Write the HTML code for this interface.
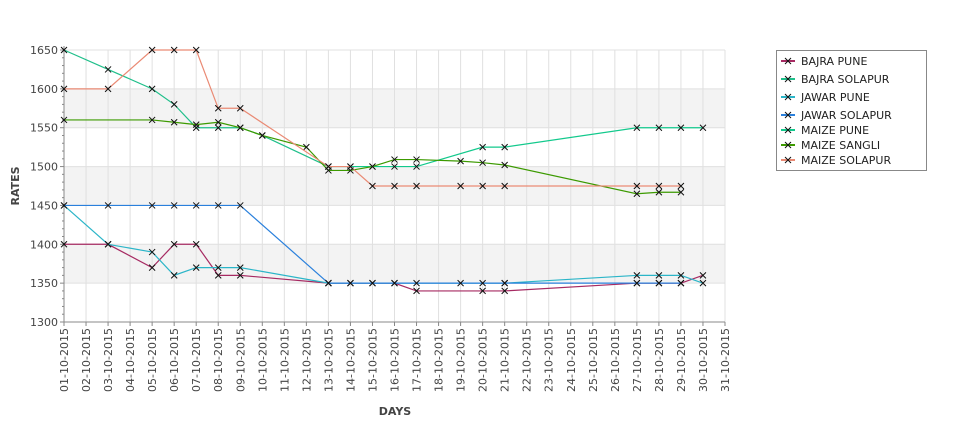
<!DOCTYPE html>
<html><head><meta charset="utf-8"><style>
body{margin:0;background:#fff;font-family:"Liberation Sans","DejaVu Sans",sans-serif}
svg text{font-family:"DejaVu Sans","Liberation Sans",sans-serif}
</style></head><body>
<svg id="chart" width="975" height="429" xmlns="http://www.w3.org/2000/svg"></svg>
<script>
const seriesNames=["BAJRA PUNE","BAJRA SOLAPUR","JAWAR PUNE","JAWAR SOLAPUR","MAIZE PUNE","MAIZE SANGLI","MAIZE SOLAPUR"];
const seriesColors=["#a62a62","#1fbf8a","#2bb5c8","#2a80dc","#12c98c","#3c9a00","#ea8a74"];
const bajraPuneDays=[1,3,5,6,7,8,9,13,14,15,16,17,20,21,27,28,29,30];
const bajraPuneVals=[1400,1400,1370,1400,1400,1360,1360,1350,1350,1350,1350,1340,1340,1340,1350,1350,1350,1360];
const bajraSolDays=[1,3,5,6,7,8,9,10,13];
const bajraSolVals=[1650,1625,1600,1580,1550,1550,1550,1540,1500];
const jawarPuneDays=[1,3,5,6,7,8,9,13,21,27,28,29,30];
const jawarPuneVals=[1450,1400,1390,1360,1370,1370,1370,1350,1350,1360,1360,1360,1350];
const jawarSolDays=[1,3,5,6,7,8,9,13,14,15,16,17,19,20,21,27,28,29];
const jawarSolVals=[1450,1450,1450,1450,1450,1450,1450,1350,1350,1350,1350,1350,1350,1350,1350,1350,1350,1350];
const maizePuneDays=[13,14,15,16,17,20,21,27,28,29,30];
const maizePuneVals=[1500,1500,1500,1500,1500,1525,1525,1550,1550,1550,1550];
const maizeSangliDays=[1,5,6,7,8,9,10,12,13,14,15,16,17,19,20,21,27,28,29];
const maizeSangliVals=[1560,1560,1557,1554,1557,1550,1540,1525,1495,1495,1500,1509,1509,1507,1505,1502,1465,1467,1467];
const maizeSolDays=[1,3,5,6,7,8,9,13,14,15,16,17,19,20,21,27,28,29];
const maizeSolVals=[1600,1600,1650,1650,1650,1575,1575,1500,1500,1475,1475,1475,1475,1475,1475,1475,1475,1475];
const yTicks=[1300,1350,1400,1450,1500,1550,1600,1650];
const dayCount=31;

const NS="http://www.w3.org/2000/svg";
const svg=document.getElementById('chart');
const L=64,R=725,T=50,B=322,ymin=1300,ymax=1650;
const xs=d=>L+(d-1)*(R-L)/(dayCount-1);
const ys=v=>B-(v-ymin)*(B-T)/(ymax-ymin);
function mk(tag,attrs,parent){const e=document.createElementNS(NS,tag);for(const k in attrs)e.setAttribute(k,attrs[k]);(parent||svg).appendChild(e);return e;}
const grid=mk('g',{});


for(let i=0;i<yTicks.length-1;i++){if(i%2===1){const r=mk('rect',{x:L,y:ys(yTicks[i+1]),width:R-L,height:ys(yTicks[i])-ys(yTicks[i+1]),fill:'#f3f3f3'},grid);}}
for(let d=1;d<=dayCount;d++){mk('line',{x1:xs(d),x2:xs(d),y1:T,y2:B,stroke:'#e0e0e0','stroke-width':1},grid);}
yTicks.forEach(v=>mk('line',{x1:L,x2:R,y1:ys(v),y2:ys(v),stroke:'#e0e0e0','stroke-width':1},grid));
// axes
const ax=mk('g',{});


mk('line',{x1:L,x2:L,y1:T-4,y2:B,stroke:'#888'},ax);
mk('line',{x1:L,x2:R,y1:B,y2:B,stroke:'#888'},ax);
for(let v=ymin;v<=ymax;v+=10){mk('line',{x1:L-(v%50===0?4:2),x2:L,y1:ys(v),y2:ys(v),stroke:'#888'},ax);}
yTicks.forEach(v=>{const t=mk('text',{x:L-6,y:ys(v)+4,'text-anchor':'end','font-size':11,fill:'#444'},ax);t.textContent=v;});
for(let d=1;d<=dayCount;d++){mk('line',{x1:xs(d),x2:xs(d),y1:B,y2:B+4,stroke:'#888'},ax);
 const t=mk('text',{x:0,y:0,'text-anchor':'end','font-size':11,fill:'#444',transform:`translate(${xs(d)+4},${B+6}) rotate(-90)`},ax);
 t.textContent=String(d).padStart(2,'0')+'-10-2015';}
const yt=mk('text',{transform:'translate(19,186) rotate(-90)','text-anchor':'middle','font-size':11,'font-weight':'bold',fill:'#444'});
yt.textContent='RATES';
const xt=mk('text',{x:395,y:415,'text-anchor':'middle','font-size':11,'font-weight':'bold',fill:'#444'});
xt.textContent='DAYS';
const data=[[bajraPuneDays,bajraPuneVals],[bajraSolDays,bajraSolVals],[jawarPuneDays,jawarPuneVals],[jawarSolDays,jawarSolVals],[maizePuneDays,maizePuneVals],[maizeSangliDays,maizeSangliVals],[maizeSolDays,maizeSolVals]];
function cross(g,x,y){mk('path',{d:`M${x-3},${y-3}L${x+3},${y+3}M${x-3},${y+3}L${x+3},${y-3}`,stroke:'#111','stroke-width':1},g);}
data.forEach(([ds,vs],i)=>{
 const g=mk('g',{});
 
 
 mk('polyline',{points:ds.map((d,k)=>xs(d)+','+ys(vs[k])).join(' '),fill:'none',stroke:seriesColors[i],'stroke-width':1.2},g);
 ds.forEach((d,k)=>cross(g,xs(d),ys(vs[k])));
});
// legend
const lg=mk('g',{});


mk('rect',{x:776.5,y:50.5,width:150,height:120,fill:'#fff',stroke:'#888'},lg);
const ly=[61,79,97,115,130,145,160];
seriesNames.forEach((n,i)=>{
 const e=mk('g',{},lg);
 
 
 mk('line',{x1:781,x2:795,y1:ly[i],y2:ly[i],stroke:seriesColors[i],'stroke-width':2},e);
 cross(e,788,ly[i]);
 const t=mk('text',{x:801,y:ly[i]+4,'font-size':11,fill:'#222'},e);t.textContent=n;
});
</script>
</body></html>
